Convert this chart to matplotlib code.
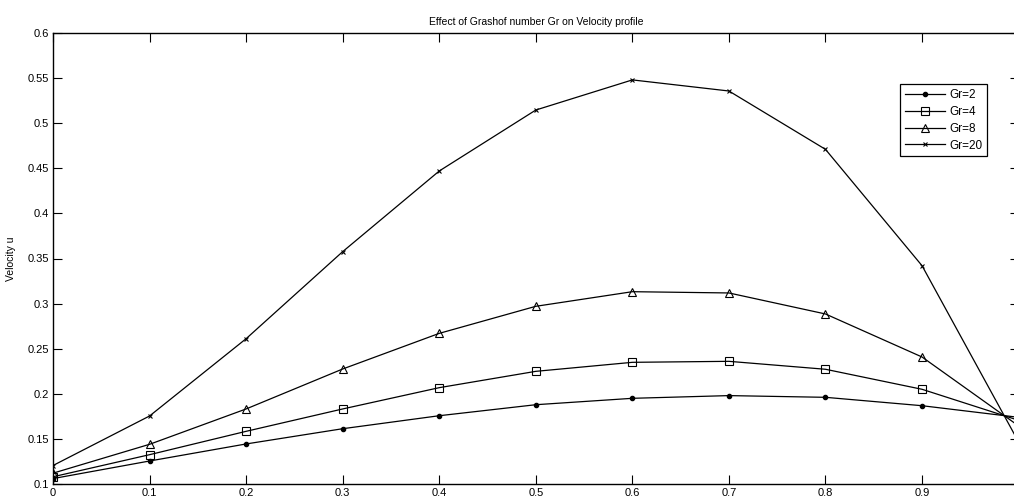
"""Effect of Grashof number on the velocity profile (MATLAB-style line plot)."""
import matplotlib
matplotlib.use("Agg")
import matplotlib.pyplot as plt

# --- data ---
x = [0.0, 0.1, 0.2, 0.3, 0.4, 0.5, 0.6, 0.7, 0.8, 0.9, 1.0]
gr2 = [0.106, 0.1255, 0.1444, 0.1613, 0.1757, 0.1879, 0.1950, 0.1980, 0.1961, 0.1868, 0.1739]
gr4 = [0.108, 0.1325, 0.1584, 0.1832, 0.2068, 0.2249, 0.2349, 0.2360, 0.2272, 0.2050, 0.1706]
gr8 = [0.112, 0.1440, 0.1832, 0.2275, 0.2670, 0.2970, 0.3132, 0.3118, 0.2885, 0.2408, 0.1644]
gr20 = [0.1205, 0.1754, 0.2611, 0.3576, 0.4470, 0.5146, 0.5480, 0.5357, 0.4710, 0.3420, 0.1466]
labels = ["Gr=2", "Gr=4", "Gr=8", "Gr=20"]
xticks = [0, 0.1, 0.2, 0.3, 0.4, 0.5, 0.6, 0.7, 0.8, 0.9, 1]
yticks = [0.1, 0.15, 0.2, 0.25, 0.3, 0.35, 0.4, 0.45, 0.5, 0.55, 0.6]

plt.rcParams.update({
    "font.family": ["Liberation Sans", "DejaVu Sans"],
    "font.size": 8,
    "axes.linewidth": 1.0,
})

fig = plt.figure(figsize=(10.14, 5.0), dpi=100)
# the reference is cropped: x=1 sits just past the right edge of the image
ax = fig.add_axes([53 / 1014, 1 - 484 / 500, (1018.6 - 53) / 1014, (484 - 33) / 500])

styles = [
    dict(marker="o", markersize=3, markerfacecolor="k"),
    dict(marker="s", markersize=5.5, markerfacecolor="none", markeredgewidth=0.8),
    dict(marker="^", markersize=6, markerfacecolor="none", markeredgewidth=0.8),
    dict(marker="x", markersize=3.5, markeredgewidth=0.8),
]
for ys, lab, st in zip([gr2, gr4, gr8, gr20], labels, styles):
    ax.plot(x, ys, color="k", linewidth=0.9, markeredgecolor="k", label=lab, **st)

ax.set_xlim(0, 1)
ax.set_ylim(0.1, 0.6)
ax.set_xticks(xticks)
# label for x=1 falls outside the cropped image in the reference
ax.set_xticklabels([f"{t:g}" if t < 1 else "" for t in xticks])
ax.set_yticks(yticks)
ax.set_yticklabels([f"{t:g}" for t in yticks])
ax.tick_params(direction="in", length=6.5, width=0.8, top=True, right=True, pad=3)

ax.set_title("Effect of Grashof number Gr on Velocity profile", fontsize=7.5, pad=6)
ax.set_ylabel("Velocity u", fontsize=7.5, labelpad=8)

leg = ax.legend(loc="upper left", bbox_to_anchor=(900 / 1014, 1 - 84 / 500),
                bbox_transform=fig.transFigure, fancybox=False, framealpha=1,
                edgecolor="k", fontsize=8.5, handlelength=3.4, borderpad=0.4,
                labelspacing=0.42, handletextpad=0.4, borderaxespad=0)
leg.get_frame().set_linewidth(0.9)

fig.savefig("out.png", dpi=100)
